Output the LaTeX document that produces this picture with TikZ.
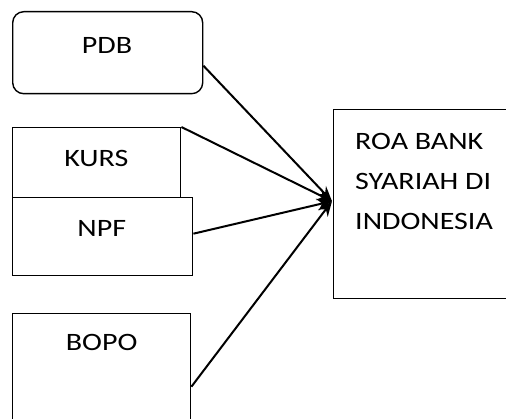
\documentclass[tikz,border=0pt]{standalone}
\usepackage{fontspec}
\setmainfont{Carlito}[FakeStretch=1.2]
\usetikzlibrary{arrows.meta,positioning}
\begin{document}
\begin{tikzpicture}[x=1pt,y=1pt,
  box/.style={draw,line width=1.4pt,inner sep=0pt,anchor=north west},
  lbl/.style={inner sep=0pt,anchor=base,font=\fontsize{25}{40}\selectfont},
  conn/.style={line width=2pt,-{Stealth[length=15pt,width=12pt]}}]
\useasboundingbox (0,0) rectangle (506,-419);
% boxes
\node[box,rounded corners=11pt,minimum width=190pt,minimum height=82pt] (pdb) at (12,-11) {};
\node[box,minimum width=168pt,minimum height=70pt] (kurs) at (12,-127) {};
\node[box,fill=white,minimum width=180pt,minimum height=78pt] (npf) at (12,-197) {};
\node[box,minimum width=178pt,minimum height=115pt] (bopo) at (12,-313) {};
\node[box,minimum width=190pt,minimum height=189pt] (roa) at (333,-109) {};
% labels
\node[lbl] (tpdb) at (107,-53.3) {PDB};
\node[lbl] (tkurs) at (96.3,-166.5) {KURS};
\node[lbl] (tnpf) at (101.7,-236.5) {NPF};
\node[lbl] (tbopo) at (101.7,-351) {BOPO};
\node[inner sep=0pt,anchor=north west,align=left,font=\fontsize{25}{40}\selectfont] (troa) at (355,-133.3) {ROA BANK\\SYARIAH DI\\INDONESIA};
% connector points
\coordinate (pdbout) at ([yshift=-13pt]pdb.east);
\coordinate (npfout) at ([yshift=3pt]npf.east);
\coordinate (bopoout) at ([yshift=-15.5pt]bopo.east);
\coordinate (hub) at ([xshift=-1pt,yshift=3pt]roa.west);
\draw[conn] (pdbout) -- (hub);
\draw[conn] (kurs.north east) -- (hub);
\draw[conn] (npfout) -- (hub);
\draw[conn] (bopoout) -- (hub);
\end{tikzpicture}
\end{document}
